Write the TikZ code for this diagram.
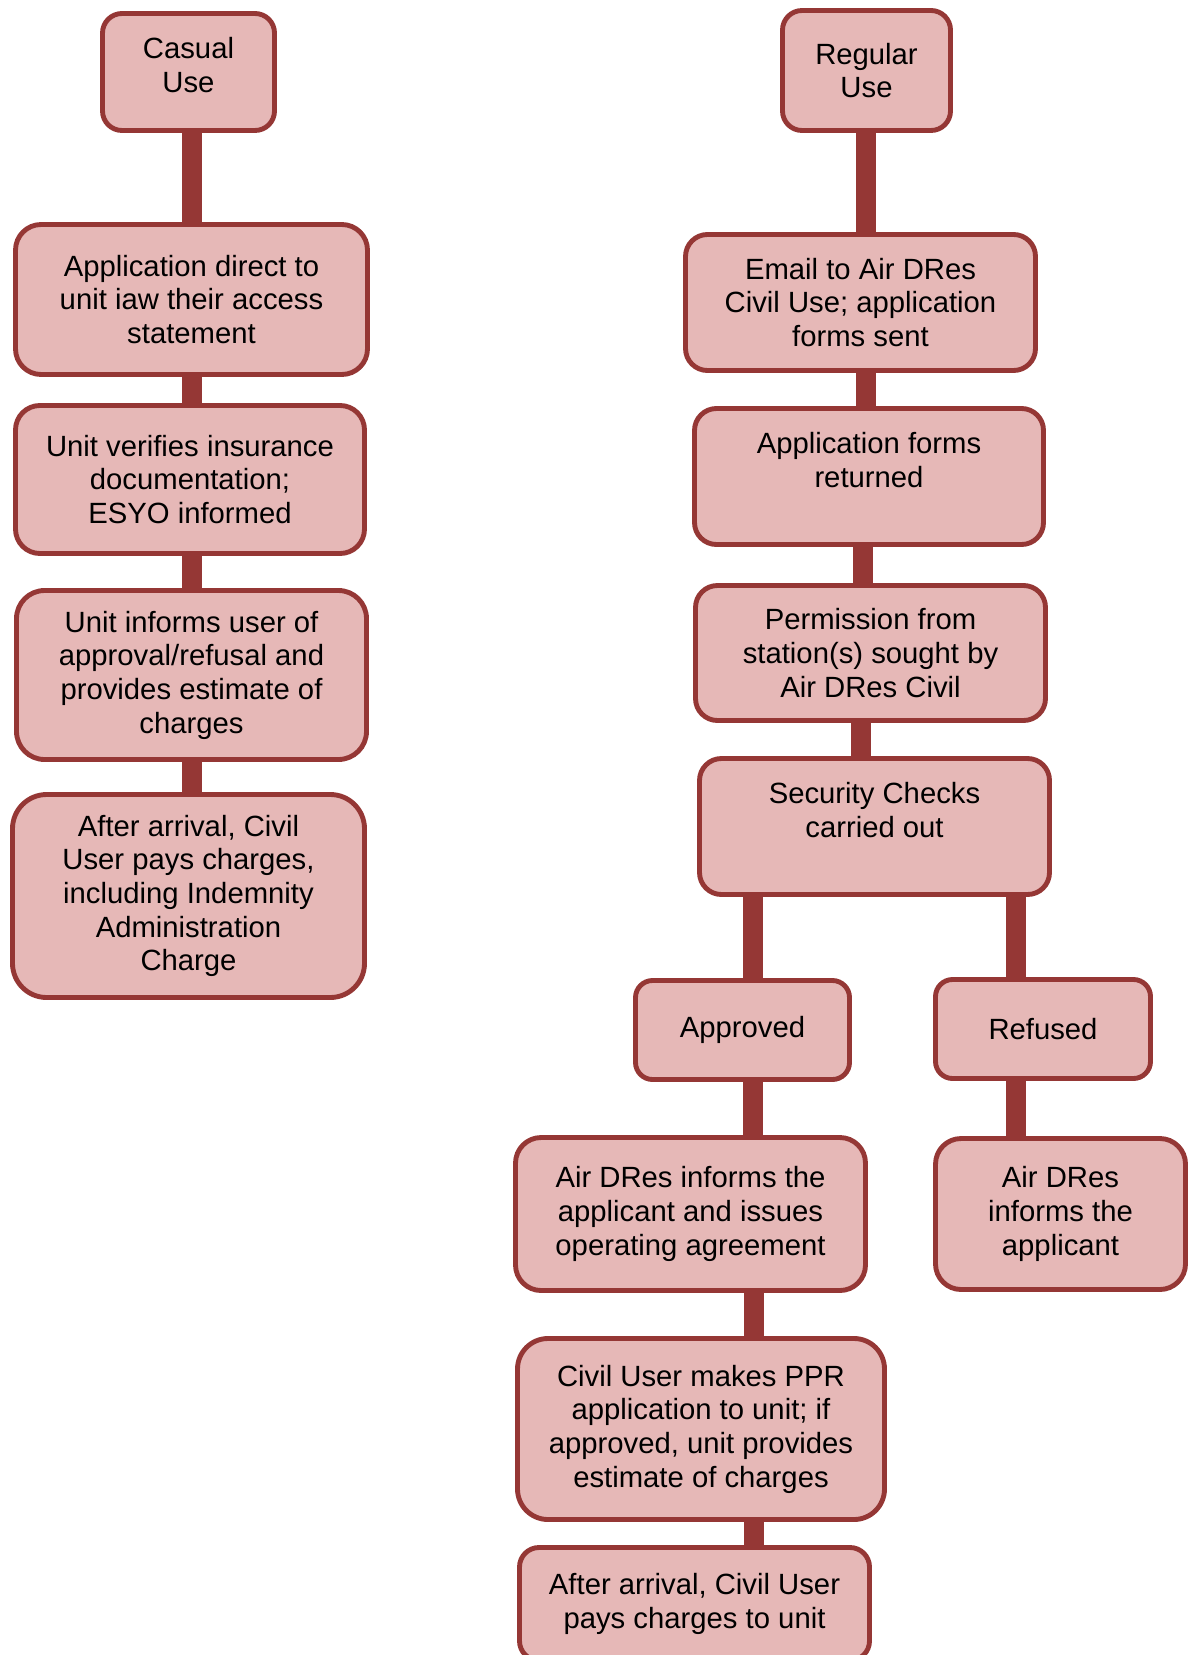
\documentclass[tikz,border=0pt]{standalone}
\usepackage{fontspec}
\setmainfont{Liberation Sans}
\usetikzlibrary{backgrounds}
\definecolor{boxfill}{HTML}{E6B8B7}
\definecolor{boxline}{HTML}{953735}

\begin{document}
\begin{tikzpicture}[x=0.41pt, y=-0.41pt,
  stage/.style={draw=boxline, fill=boxfill, line width=2pt, rounded corners=9pt,
    align=center, inner sep=0pt, font=\fontsize{12pt}{13.8pt}\selectfont},
  boxsize/.style 2 args={minimum width=#1*0.41pt, minimum height=#2*0.41pt},
  link/.style={draw=boxline, line width=8.2pt}]
\useasboundingbox (0,0) rectangle (1189,1655);
% casual use
\node[stage, boxsize={172}{117}, rounded corners=8pt, text depth=6pt] (casual) at (188.5,72) {Casual\\Use};
\node[stage, boxsize={352}{150}, rounded corners=10.5pt] (direct) at (191.5,299.5) {Application direct to\\unit iaw their access\\statement};
\node[stage, boxsize={349}{148}, rounded corners=10pt] (verify) at (190,479.5) {Unit verifies insurance\\documentation;\\ESYO informed};
\node[stage, boxsize={350}{169}, rounded corners=11.5pt] (informs) at (191.5,675) {Unit informs user of\\approval/refusal and\\provides estimate of\\charges};
\node[stage, boxsize={352}{203}, rounded corners=14pt] (paysL) at (188.5,896) {After arrival, Civil\\User pays charges,\\including Indemnity\\Administration\\Charge};
% regular use
\node[stage, boxsize={168}{120}, rounded corners=8pt] (regular) at (866.5,70.5) {Regular\\Use};
\node[stage, boxsize={350}{136}] (email) at (860.5,302.5) {Email to Air DRes\\Civil Use; application\\forms sent};
\node[stage, boxsize={349}{136}] (returned) at (869,476.5) {Application forms\\returned\\\mbox{}};
\node[stage, boxsize={350}{135}] (permission) at (870.5,653) {Permission from\\station(s) sought by\\Air DRes Civil};
\node[stage, boxsize={350}{136}] (security) at (874.5,826.5) {Security Checks\\carried out\\\mbox{}};
\node[stage, boxsize={214}{99}, rounded corners=7pt] (approved) at (742.5,1030) {Approved};
\node[stage, boxsize={215}{99}, rounded corners=7pt] (refused) at (1043,1029) {Refused};
\node[stage, boxsize={350}{153}, rounded corners=10.5pt] (issues) at (690.5,1214) {Air DRes informs the\\applicant and issues\\operating agreement};
\node[stage, boxsize={250}{151}, rounded corners=10.5pt] (told) at (1060.5,1214) {Air DRes\\informs the\\applicant};
\node[stage, boxsize={367}{181}, rounded corners=12.5pt] (ppr) at (701,1429) {Civil User makes PPR\\application to unit; if\\approved, unit provides\\estimate of charges};
\node[stage, boxsize={350}{113}, rounded corners=8pt] (paysR) at (694.5,1604) {After arrival, Civil User\\pays charges to unit};

\begin{scope}[on background layer]
\foreach \a/\b/\x in {casual/direct/192, direct/verify/192, verify/informs/192, informs/paysL/192,
    regular/email/866, email/returned/866, returned/permission/863, permission/security/861,
    security/approved/753, approved/issues/753, issues/ppr/754, ppr/paysR/754,
    security/refused/1016, refused/told/1016}
  \draw[link] (\a.south -| \x,0) -- (\b.north -| \x,0);
\end{scope}
\end{tikzpicture}
\end{document}
